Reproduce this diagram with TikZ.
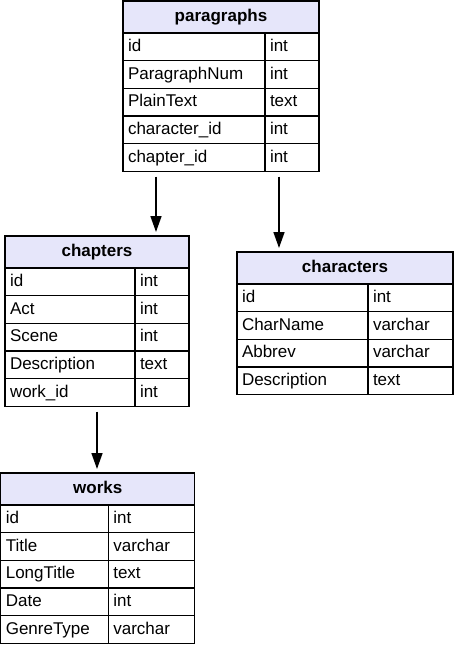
\documentclass[tikz,border=0pt]{standalone}
\usepackage{fontspec}
\setmainfont{Liberation Sans}
\usetikzlibrary{positioning,arrows.meta}
\definecolor{headfill}{RGB}{230,230,250}

\begin{document}
\begin{tikzpicture}[
    x=1pt, y=-1pt,
    every node/.style={font=\fontsize{17}{20}\selectfont, outer sep=0pt},
    table head/.style={draw, line width=1.3pt, fill=headfill, anchor=north west, minimum height=32pt, inner sep=0pt, text height=12.4pt, text depth=3pt, font=\fontsize{17}{20}\selectfont\bfseries},
    field/.style={draw, line width=1.3pt, text width=#1, inner xsep=5pt, inner ysep=0pt, minimum height=27.7pt, text height=12.4pt, text depth=3pt, align=left},
    link/.style={-{Triangle[width=11pt,length=16pt]}, line width=1.6pt, shorten <=5pt, shorten >=4pt} % Filled tips
]
    \useasboundingbox (0,0) rectangle (455,646);

    % paragraphs
    \node[table head, minimum width=196pt] (parHead) at (123,1) {paragraphs};
    \node[field=132pt, below right=0pt of parHead.south west] (parId) {id};
    \node[field=44pt, right=0pt of parId] (parIdT) {int};
    \node[field=132pt, below=0pt of parId] (parNum) {ParagraphNum};
    \node[field=44pt, right=0pt of parNum] (parNumT) {int};
    \node[field=132pt, below=0pt of parNum] (parText) {PlainText};
    \node[field=44pt, right=0pt of parText] (parTextT) {text};
    \node[field=132pt, below=0pt of parText] (parChar) {character\_id};
    \node[field=44pt, right=0pt of parChar] (parCharT) {int};
    \node[field=132pt, below=0pt of parChar] (parChap) {chapter\_id};
    \node[field=44pt, right=0pt of parChap] (parChapT) {int};

    % chapters
    \node[table head, minimum width=184pt] (chapHead) at (5,236) {chapters};
    \node[field=120pt, below right=0pt of chapHead.south west] (chapId) {id};
    \node[field=44pt, right=0pt of chapId] (chapIdT) {int};
    \node[field=120pt, below=0pt of chapId] (chapAct) {Act};
    \node[field=44pt, right=0pt of chapAct] (chapActT) {int};
    \node[field=120pt, below=0pt of chapAct] (chapScene) {Scene};
    \node[field=44pt, right=0pt of chapScene] (chapSceneT) {int};
    \node[field=120pt, below=0pt of chapScene] (chapDesc) {Description};
    \node[field=44pt, right=0pt of chapDesc] (chapDescT) {text};
    \node[field=120pt, below=0pt of chapDesc] (chapWork) {work\_id};
    \node[field=44pt, right=0pt of chapWork] (chapWorkT) {int};

    % characters
    \node[table head, minimum width=216pt] (charHead) at (237,252) {characters};
    \node[field=121pt, below right=0pt of charHead.south west] (charId) {id};
    \node[field=75pt, right=0pt of charId] (charIdT) {int};
    \node[field=121pt, below=0pt of charId] (charName) {CharName};
    \node[field=75pt, right=0pt of charName] (charNameT) {varchar};
    \node[field=121pt, below=0pt of charName] (charAbbr) {Abbrev};
    \node[field=75pt, right=0pt of charAbbr] (charAbbrT) {varchar};
    \node[field=121pt, below=0pt of charAbbr] (charDesc) {Description};
    \node[field=75pt, right=0pt of charDesc] (charDescT) {text};

    % works
    \node[table head, minimum width=194pt] (workHead) at (0.8,473) {works};
    \node[field=97.5pt, below right=0pt of workHead.south west] (workId) {id};
    \node[field=76.5pt, right=0pt of workId] (workIdT) {int};
    \node[field=97.5pt, below=0pt of workId] (workTitle) {Title};
    \node[field=76.5pt, right=0pt of workTitle] (workTitleT) {varchar};
    \node[field=97.5pt, below=0pt of workTitle] (workLong) {LongTitle};
    \node[field=76.5pt, right=0pt of workLong] (workLongT) {text};
    \node[field=97.5pt, below=0pt of workLong] (workDate) {Date};
    \node[field=76.5pt, right=0pt of workDate] (workDateT) {int};
    \node[field=97.5pt, below=0pt of workDate] (workGenre) {GenreType};
    \node[field=76.5pt, right=0pt of workGenre] (workGenreT) {varchar};

    % Links
    \draw[link] ([xshift=-38pt]parChap.south) -- ([xshift=-38pt]parChap.south |- chapHead.north);
    \draw[link] ([xshift=-13pt]parChapT.south) -- ([xshift=-13pt]parChapT.south |- charHead.north);
    \draw[link] (chapWork.south -| chapHead) -- (chapHead |- workHead.north);
\end{tikzpicture}
\end{document}
